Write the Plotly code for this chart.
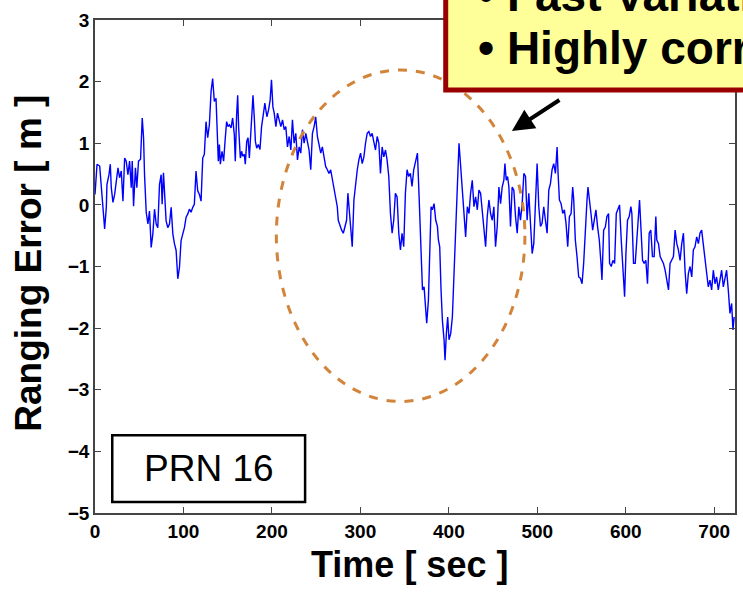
import plotly.graph_objects as go

# ---- data: time [s] and ranging error [m] ----
T1 = [0.0,2.3,5.3,7.1,9.0,10.9,12.8,13.5,15.8,17.3,18.4,20.3,22.2,24.1,26.0,27.8,29.7,31.6,33.5,35.3,
      37.2,39.1,41.0,42.1,43.6,45.7,47.3,49.2,51.5,53.4,54.9,56.0,57.9,59.8,61.6,63.5,65.4,67.3,69.2,71.0,
      72.9,74.8,75.9,77.4,78.9,80.4,82.3,84.2,86.1,88.0,89.8,91.7,93.6,95.5,97.3,99.2,101.1,103.0,104.8,106.7,
      108.6,110.5,112.3,114.2,116.1,118.0,119.9,121.8,123.6,125.5,127.4,129.3,131.2,133.0,134.9,136.8,137.9,139.4,140.6,141.7,
      143.6,145.4,147.3,148.8,150.4,151.9,153.8,155.6,157.5,158.6,160.1,161.3,162.4,164.3,165.8,166.9,168.8,169.9,171.5,173.0,
      174.5,176.4,177.5,178.6,180.1,181.3,182.8,184.6,186.5]
V1 = [0.17,0.66,0.63,0.28,-0.04,-0.39,-0.04,0.33,0.49,0.66,0.28,0.04,0.17,0.44,0.6,0.44,0.55,0.06,0.76,0.71,
      0.49,0.71,0.28,0.71,-0.02,0.6,0.28,0.71,0.74,1.41,1.09,0.49,-0.12,-0.31,-0.1,-0.69,-0.47,-0.07,-0.31,-0.37,
      0.33,0.49,0.01,0.52,0.06,-0.26,-0.37,-0.31,-0.04,-0.47,-0.63,-0.74,-1.2,-1.01,-0.58,-0.47,-0.37,-0.2,-0.15,-0.07,
      -0.12,-0.04,0.01,0.55,0.23,0.17,0.06,0.76,0.82,1.35,1.09,1.3,1.84,2.05,1.68,1.73,1.3,0.71,0.98,0.66,
      0.87,0.71,1.09,1.35,1.27,1.3,1.25,1.41,1.14,0.71,1.46,1.78,1.25,0.76,0.87,0.79,0.82,0.66,1.03,1.09,
      0.76,1.25,1.52,1.78,1.41,1.03,0.92,0.98,0.9]

T2 = [188.3,190.5,192.0,194.3,196.2,198.0,199.5,201.1,202.6,204.5,206.3,208.2,210.1,212.0,213.9,215.7,217.6,219.5,221.4,223.2,
      225.1,227.0,228.9,230.8,232.6,234.5,236.4,238.3,240.1,242.0,243.9,245.8,247.7,249.5,251.4,253.3,255.2,257.0,258.9,260.8,
      262.7,264.5,266.4,268.3,270.2,272.1,273.9,275.0,276.9,278.8,280.7,282.5,284.4,285.9,287.8,289.7,290.8,292.7,294.6,296.5,
      298.3,300.2,302.1,304.0,305.8,307.7,309.6,311.5,313.3,315.2,317.1,319.0,320.9,322.7,324.6,326.5,328.4,330.2,332.1,334.0,
      335.9,337.7,339.6,341.5,343.4,345.3,347.1,349.0,350.9,352.8,354.6,356.5,358.4,360.3]
V2 = [1.27,1.49,1.65,1.43,1.54,1.7,2.03,1.59,1.49,1.27,1.49,1.38,1.27,1.38,1.22,1.27,0.94,1.11,0.89,1.38,
      1.0,1.16,0.73,0.94,0.84,1.22,1.0,1.16,1.05,0.89,0.57,1.16,1.27,1.43,1.11,1.0,0.84,0.94,0.78,0.62,
      0.57,0.51,0.57,0.4,0.3,0.13,-0.03,-0.25,-0.35,-0.41,-0.46,-0.35,-0.25,0.19,-0.14,-0.46,-0.68,0.08,0.35,0.57,
      0.73,0.84,0.67,0.78,1.0,1.16,1.19,1.11,1.16,1.05,0.89,1.11,1.0,0.51,0.94,0.78,0.89,0.73,0.46,-0.14,
      -0.46,-0.25,0.19,0.13,-0.46,-0.73,-0.46,-0.68,0.19,0.57,0.46,0.51,0.3,0.57]

T3 = [364.5,366.4,368.3,370.2,372.0,373.9,375.0,376.9,378.4,379.9,381.4,383.3,385.2,387.1,388.2,389.7,391.2,392.7,394.6,395.7,
      397.2,398.7,400.2,402.1,404.0,405.9,407.0,408.5,410.0,411.5,412.6,414.1,415.3,417.1,419.0,420.9,422.8,424.6,426.5,428.4,
      430.3,432.2,434.0,435.9,437.8,439.7,441.6,443.4,445.3,447.2,449.1,450.9,452.8,454.7,456.6,458.5,460.3,462.2,463.4,464.9,
      466.4,467.9,469.7,471.6,473.5,475.4,477.3,479.1,481.0,482.9,484.8,486.7,488.5,490.4,492.3,494.2,496.0,497.9,499.8,501.7,
      503.6,505.4,507.3,509.2,511.1]
V3 = [0.84,0.13,-0.68,-1.38,-1.33,-1.65,-1.92,-1.55,-0.68,-0.03,-0.08,0.02,-0.25,-0.35,-0.57,-0.68,-1.38,-1.87,-2.19,-2.52,
      -2.09,-1.82,-2.19,-2.09,-1.82,-1.06,-0.79,0.02,0.40,1.0,0.78,0.46,0.13,-0.25,-0.52,-0.03,-0.14,0.19,0.40,-0.03,
      0.13,-0.08,0.24,0.19,-0.08,-0.46,-0.68,-0.19,0.08,-0.14,-0.25,-0.03,-0.68,-0.35,0.29,0.02,0.29,0.40,0.67,0.40,
      0.46,0.29,-0.35,0.29,0.24,-0.19,-0.46,-0.03,-0.25,0.02,0.51,0.46,-0.25,0.19,-0.25,-0.79,-0.63,0.02,0.67,-0.03,
      -0.35,-0.30,-0.03,-0.25,-0.46]

T4 = [513.0,514.9,516.7,518.6,520.5,522.4,523.5,525.0,526.9,528.8,530.6,532.5,534.4,536.3,538.2,540.0,541.2,543.0,544.9,546.8,
      548.7,550.6,552.4,554.3,556.2,557.3,558.8,560.7,562.6,564.5,566.3,568.2,570.1,572.0,573.1,575.0,576.9,578.7,580.6,581.7,
      583.6,585.5,587.4,589.3,591.1,593.0,594.9,596.8,598.7,600.2,602.0,603.9,605.8,606.9,608.8,610.7,612.6,614.4,615.6,617.1,
      619.0,620.8,622.7,624.6,626.5,628.3,630.2,632.1,634.0,635.1,637.0,638.9,640.8,642.6,644.5,646.4,648.3,650.1,652.0,653.9,
      655.8,657.7,659.5,661.4,663.3,665.2,667.0,668.9,670.8,672.7,674.6,676.4,678.3,680.2,682.1,683.9,685.8,687.7,689.6,691.5,
      693.3,695.2,697.1,699.0,700.9,702.7,704.6,706.5,708.4,710.3,712.1,714.0,715.9,717.8,719.7,721.2,722.5]
V4 = [0.24,0.35,0.57,0.67,0.51,0.94,0.51,0.08,0.02,-0.14,-0.08,-0.3,-0.68,-0.19,-0.14,0.29,0.08,-0.57,-0.84,-1.17,
      -1.19,-1.28,-0.95,-0.36,0.08,0.29,0.13,-0.14,-0.41,-0.19,-0.08,-0.36,-0.57,-0.95,-1.22,-0.41,-0.36,-0.19,-0.14,-0.95,
      -1.0,-0.9,-0.95,-0.14,-0.06,0.0,-0.57,-1.06,-1.49,-0.79,-0.25,-0.19,-0.03,-0.14,-0.95,-0.95,-0.52,-0.19,0.08,-0.36,
      -0.9,-0.95,-0.9,-1.28,-0.46,-0.41,-0.84,-0.84,-0.19,-0.57,-0.63,-0.84,-0.9,-0.95,-1.06,-1.22,-1.38,-0.95,-0.9,-0.84,
      -0.41,-0.63,-0.73,-0.9,-0.63,-0.46,-1.06,-1.44,-1.11,-1.0,-1.17,-0.73,-0.68,-0.52,-0.63,-0.46,-0.41,-0.68,-0.84,-1.11,
      -1.33,-1.22,-1.38,-1.06,-1.28,-1.17,-1.38,-1.22,-1.06,-1.33,-1.17,-1.06,-1.38,-1.76,-1.6,-2.03,-1.82]

time_s = T1 + T2 + T3 + T4
err_m = V1 + V2 + V3 + V4

x_ticks = [0, 100, 200, 300, 400, 500, 600, 700]
y_ticks = [-5, -4, -3, -2, -1, 0, 1, 2, 3]

FONT = "Liberation Sans, Arial, sans-serif"
AX = "#444444"

fig = go.Figure()
fig.add_trace(go.Scatter(x=time_s, y=err_m, mode="lines",
                         line=dict(color="#0000FF", width=1.4), showlegend=False))

axis_common = dict(showline=True, linecolor=AX, linewidth=1.5, mirror="ticks",
                   ticks="inside", ticklen=6, tickwidth=1.2, tickcolor=AX,
                   showgrid=False, zeroline=False,
                   tickfont=dict(family=FONT, size=19, color="black", weight="bold"))

fig.update_layout(
    width=743, height=592,
    margin=dict(l=95, r=6, t=20, b=79),
    paper_bgcolor="white", plot_bgcolor="white",
    xaxis=dict(range=[0, 723.5], tickvals=x_ticks, **axis_common),
    yaxis=dict(range=[-5, 3], tickvals=y_ticks, **axis_common),
)

# dashed ellipse
fig.add_shape(type="circle", xref="x", yref="y", x0=205, x1=486, y0=-3.19, y1=2.19,
              line=dict(color="#D2843A", width=3, dash="dash"), layer="above")
# PRN box
fig.add_shape(type="rect", xref="x", yref="y", x0=19.5, x1=237.5, y0=-4.82, y1=-3.74,
              fillcolor="white", line=dict(color="black", width=2.5), layer="above")
fig.add_annotation(x=128.5, y=-4.27, xref="x", yref="y", text="PRN 16", showarrow=False,
                   font=dict(family=FONT, size=37, color="black"))

# yellow call-out box (partially outside the page, as in the reference)
fig.add_shape(type="rect", xref="paper", yref="paper", x0=0.548, x1=1.15, y0=0.858, y1=1.15,
              fillcolor="#FFFF99", line=dict(color="#990000", width=5), layer="above")
fig.add_annotation(xref="paper", yref="paper", x=0.595, y=1.05, xanchor="left", yanchor="middle",
                   text="<b>• Fast Variation</b>", showarrow=False,
                   font=dict(family=FONT, size=46, color="black"))
fig.add_annotation(xref="paper", yref="paper", x=0.595, y=0.944, xanchor="left", yanchor="middle",
                   text="<b>• Highly correlated</b>", showarrow=False,
                   font=dict(family=FONT, size=46, color="black"))

# arrow
fig.add_annotation(x=471.3, y=1.198, xref="x", yref="y", ax=49, ay=-32, text="",
                   showarrow=True, arrowhead=2, arrowsize=1.1, arrowwidth=4, arrowcolor="black")

# axis titles
fig.add_annotation(xref="paper", yref="paper", x=0.491, y=-0.104, yanchor="middle",
                   text="<b>Time [ sec ]</b>", showarrow=False,
                   font=dict(family=FONT, size=36, color="black"))
fig.add_annotation(xref="paper", yref="paper", x=-0.1044, y=0.506, xanchor="center", yanchor="middle",
                   text="<b>Ranging Error [ m ]</b>", textangle=-90, showarrow=False,
                   font=dict(family=FONT, size=37, color="black"))

fig.write_html("out.html")
